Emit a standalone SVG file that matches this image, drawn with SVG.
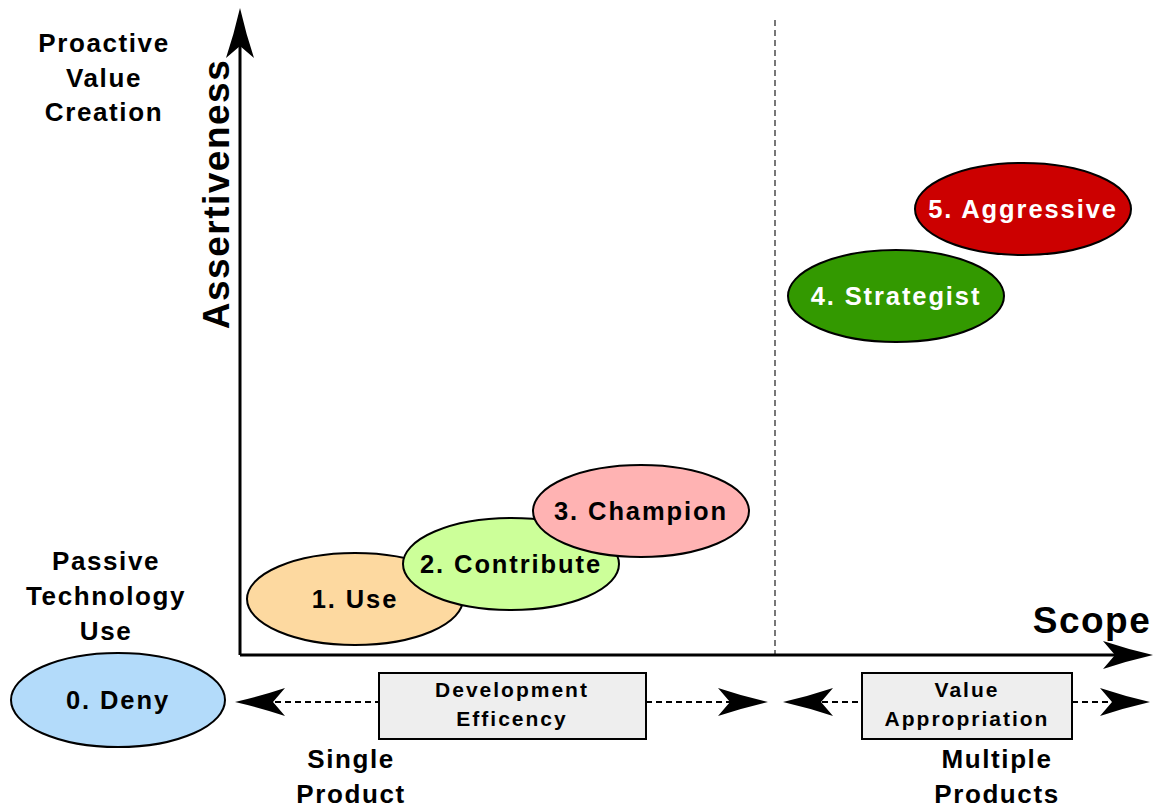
<svg xmlns="http://www.w3.org/2000/svg" xmlns:xlink="http://www.w3.org/1999/xlink" width="1157" height="809" viewBox="0 0 1157 809">
<style>
text{font-family:"Liberation Sans",Arial,Helvetica,sans-serif;font-weight:bold;fill:#000;text-anchor:middle}
.lbl{font-size:26px;letter-spacing:1.6px}
.big{font-size:37px;letter-spacing:1.5px}
.node{font-size:25.5px;letter-spacing:1.9px}
.box{font-size:21px;letter-spacing:2px}
.w{fill:#fff}
ellipse{stroke:#000;stroke-width:2}
.bx{fill:#eeeeee;stroke:#000;stroke-width:2}
.axis{stroke:#000;stroke-width:3;fill:none}
.dash{stroke:#000;stroke-width:2;stroke-dasharray:6 4;fill:none}
.vd{stroke:#777;stroke-width:2;stroke-dasharray:6 4;fill:none}
</style>
<defs>
<path id="dart" d="M0,0 Q-26,-6 -50,-14 L-38,0 L-50,14 Q-26,6 0,0 Z" fill="#000"/>
</defs>
<rect x="0" y="0" width="1157" height="809" fill="#fff"/>
<g id="connectors">
<path class="vd" d="M775,20 V655"/>
<path class="axis" d="M240,655 V40"/>
<path class="axis" d="M240,655 H1115"/>
<use xlink:href="#dart" transform="translate(240,8) rotate(-90)"/>
<use xlink:href="#dart" transform="translate(1153,655)"/>
<path class="dash" d="M275,702 H379"/>
<path class="dash" d="M646,702 H730"/>
<use xlink:href="#dart" transform="translate(235,702) rotate(180)"/>
<use xlink:href="#dart" transform="translate(768,702)"/>
<path class="dash" d="M822,702 H862"/>
<path class="dash" d="M1072,702 H1112"/>
<use xlink:href="#dart" transform="translate(783,702) rotate(180)"/>
<use xlink:href="#dart" transform="translate(1150,702)"/>
</g>
<g id="labels">
<text class="lbl"><tspan x="104" y="52">Proactive</tspan><tspan x="104" y="87">Value</tspan><tspan x="104" y="121">Creation</tspan></text>
<text class="lbl"><tspan x="106" y="570">Passive</tspan><tspan x="106" y="605">Technology</tspan><tspan x="106" y="640">Use</tspan></text>
<text class="big" transform="translate(229,194) rotate(-90)">Assertiveness</text>
<text class="big" x="1092" y="633">Scope</text>
<text class="lbl"><tspan x="351" y="768">Single</tspan><tspan x="351" y="803">Product</tspan></text>
<text class="lbl"><tspan x="997" y="768">Multiple</tspan><tspan x="997" y="803">Products</tspan></text>
</g>
<g id="n0"><ellipse cx="118" cy="700" rx="107" ry="47" fill="#b3dbfa"/><text class="node" x="118" y="709">0. Deny</text></g>
<g id="n1"><ellipse cx="355" cy="599" rx="108" ry="46" fill="#fdd9a0"/><text class="node" x="355" y="608">1. Use</text></g>
<g id="n2"><ellipse cx="511" cy="564" rx="108" ry="46" fill="#ccff99"/><text class="node" x="511" y="573">2. Contribute</text></g>
<g id="n3"><ellipse cx="641" cy="511" rx="108" ry="46" fill="#ffb3b3"/><text class="node" x="641" y="520">3. Champion</text></g>
<g id="n4"><ellipse cx="896" cy="296" rx="108" ry="46" fill="#339900"/><text class="node w" x="896" y="305">4. Strategist</text></g>
<g id="n5"><ellipse cx="1023" cy="209" rx="108" ry="46" fill="#cc0000"/><text class="node w" x="1023" y="218">5. Aggressive</text></g>
<g id="b1"><rect class="bx" x="379" y="673" width="267" height="66"/><text class="box"><tspan x="512" y="697">Development</tspan><tspan x="512" y="726">Efficency</tspan></text></g>
<g id="b2"><rect class="bx" x="862" y="673" width="210" height="66"/><text class="box"><tspan x="967" y="697">Value</tspan><tspan x="967" y="726">Appropriation</tspan></text></g>
</svg>
